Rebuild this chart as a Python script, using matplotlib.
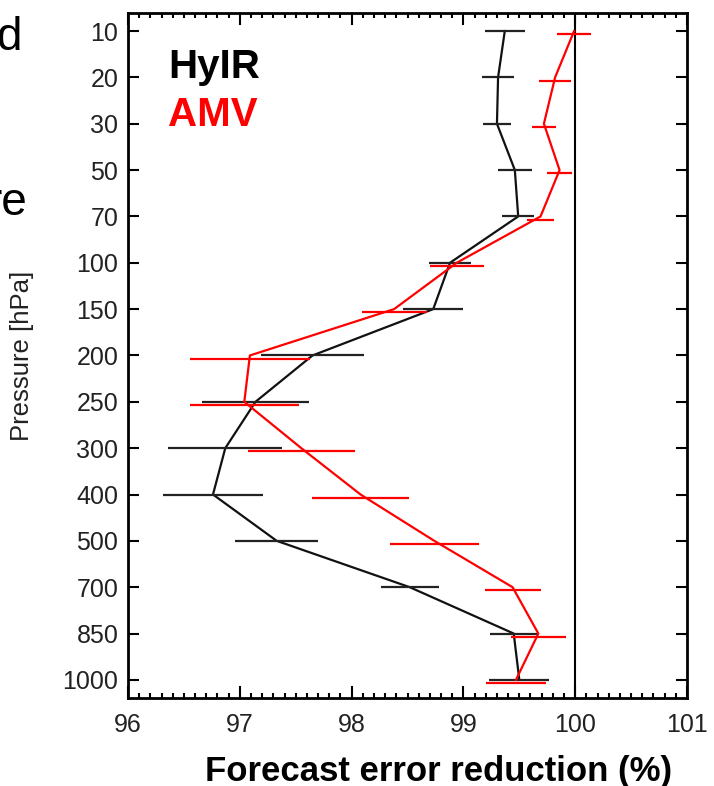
import matplotlib

matplotlib.use("Agg")
import matplotlib.pyplot as plt
import numpy as np
from matplotlib.ticker import MultipleLocator

plt.rcParams["font.family"] = ["Liberation Sans", "DejaVu Sans"]

# ---- data -----------------------------------------------------------------
levels = ["10", "20", "30", "50", "70", "100", "150", "200", "250",
          "300", "400", "500", "700", "850", "1000"]           # hPa
hyir = [99.37, 99.31, 99.30, 99.46, 99.49, 98.88, 98.73, 97.65, 97.14,
        96.87, 96.76, 97.33, 98.52, 99.45, 99.50]
hyir_err = [0.18, 0.14, 0.125, 0.15, 0.145, 0.19, 0.27, 0.465, 0.48,
            0.51, 0.45, 0.37, 0.26, 0.215, 0.27]
amv = [99.99, 99.82, 99.72, 99.86, 99.69, 98.94, 98.38, 97.09, 97.04,
       97.55, 98.08, 98.74, 99.44, 99.67, 99.47]
amv_err = [0.15, 0.14, 0.11, 0.11, 0.12, 0.24, 0.29, 0.54, 0.49,
           0.48, 0.43, 0.40, 0.25, 0.245, 0.265]

ypos = np.arange(len(levels))

fig = plt.figure(figsize=(7.14, 7.86), dpi=100)
ax = fig.add_axes([0.1793, 0.1120, 0.7829, 0.8715])

ax.axvline(100, color="black", lw=1.5, zorder=1)

# black series, then red on top; red bars sit a hair below the level
ax.plot(hyir, ypos, color="#111111", lw=1.6, zorder=2)
ax.errorbar(hyir, ypos, xerr=hyir_err, fmt="none", ecolor="#222222",
            elinewidth=1.6, capsize=0, zorder=2)
ax.plot(amv, ypos, color="#ff0000", lw=1.6, zorder=3)
ax.errorbar(amv, ypos + 0.07, xerr=amv_err, fmt="none", ecolor="#ff0000",
            elinewidth=1.6, capsize=0, zorder=3)

ax.set_xlim(96, 101)
ax.set_ylim(14.39, -0.39)
ax.set_yticks(ypos)
ax.set_yticklabels(levels)
ax.xaxis.set_major_locator(MultipleLocator(1))
ax.xaxis.set_minor_locator(MultipleLocator(0.1))

ax.tick_params(axis="x", which="both", direction="in", top=True, bottom=True,
               width=1.5, labelsize=18, labelcolor="#222222", pad=11)
ax.tick_params(axis="x", which="major", length=8.6)
ax.tick_params(axis="x", which="minor", length=3.6)
ax.tick_params(axis="y", which="major", direction="in", left=True, right=True,
               length=8, width=1.5, labelsize=18, labelcolor="#222222", pad=7)
for s in ax.spines.values():
    s.set_linewidth(2.0)

ax.set_ylabel("Pressure [hPa]", fontsize=18.5, color="#222222")
ax.yaxis.set_label_coords(-0.168, 0.5)
ax.set_xlabel("Forecast error reduction (%)", fontsize=25, fontweight="bold")
ax.xaxis.set_label_coords(0.556, -0.0826)

ax.text(0.0716, 0.905, "HyIR", transform=ax.transAxes, fontsize=29,
        fontweight="bold", color="black", va="baseline")
ax.text(0.0716, 0.835, "AMV", transform=ax.transAxes, fontsize=29,
        fontweight="bold", color="#ff0000", va="baseline")

# cut-off slide text at the left edge (cropped in the original too)
fig.text(22 / 714, 1 - 50 / 786, "d", fontsize=33, ha="right", va="baseline")
fig.text(28 / 714, 1 - 215 / 786, "re", fontsize=33, ha="right", va="baseline")

fig.savefig("out.png", dpi=100)
